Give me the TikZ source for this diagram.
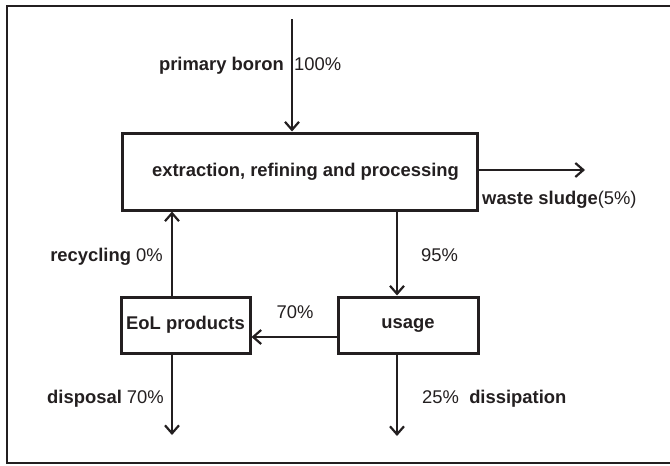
\documentclass[tikz,border=0pt]{standalone}
\usepackage{fontspec}
\setmainfont{Liberation Sans}
\usetikzlibrary{positioning,arrows.meta}
\definecolor{ink}{HTML}{231F20}
\tikzset{
  blk/.style={draw=ink, line width=3pt, inner sep=0pt, align=center, text=ink,
    font=\fontsize{18.4}{22}\selectfont\bfseries},
  arr/.style={draw=ink, line width=2.2pt, -{Straight Barb[length=8pt, width=14pt]}},
  lbl/.style={inner sep=0pt, text=ink}}

\begin{document}
\begin{tikzpicture}[x=1pt, y=-1pt, font=\fontsize{18.4}{22}\selectfont]
\useasboundingbox (0,0) rectangle (670,466);
\clip (0,0) rectangle (670,466);
\draw[ink, line width=2.2pt] (680,6) -- (7,6) -- (7,463) -- (680,463);
\node[blk, minimum width=355pt, minimum height=77pt] (epr) at (299.5,171.5) {\hspace*{12pt}extraction, refining and processing};
\node[blk, minimum width=129pt, minimum height=56pt] (eol) at (185.5,325) {EoL products};
\node[blk, minimum width=140pt, minimum height=56pt] (use) at (408,325) {usage};
\coordinate (src) at (292,19);
\coordinate (sludge) at (585,170);
\coordinate (rx) at (172,0);
\coordinate (ux) at (397,0);
\coordinate (dsp) at (172,435);
\coordinate (dss) at (397,436);
\draw[arr] (src) -- (src |- epr.north);
\draw[arr] (epr.east |- sludge) -- (sludge);
\draw[arr] (eol.north -| rx) -- (epr.south -| rx);
\draw[arr] (epr.south -| ux) -- (use.north -| ux);
\draw[arr] ([yshift=-12pt]use.west) -- ([yshift=-12pt]eol.east);
\draw[arr] (eol.south -| rx) -- (dsp);
\draw[arr] (use.south -| ux) -- (dss);
\node[lbl, anchor=base east] (pbl) at (284,70) {\textbf{primary boron}};
\node[lbl, anchor=base west] (pbv) at (294,70) {100\%};
\node[lbl, anchor=base west] (wsl) at (482,204) {\textbf{waste sludge}(5\%)};
\node[lbl, anchor=base east] (rcl) at (163,261) {\textbf{recycling} 0\%};
\node[lbl, anchor=base west] (usv) at (421,261) {95\%};
\node[lbl, anchor=base] (eov) at (295,318) {70\%};
\node[lbl, anchor=base east] (dpl) at (164,403) {\textbf{disposal} 70\%};
\node[lbl, anchor=base west] (dsl) at (422,403) {25\%~ \textbf{dissipation}};
\end{tikzpicture}
\end{document}
